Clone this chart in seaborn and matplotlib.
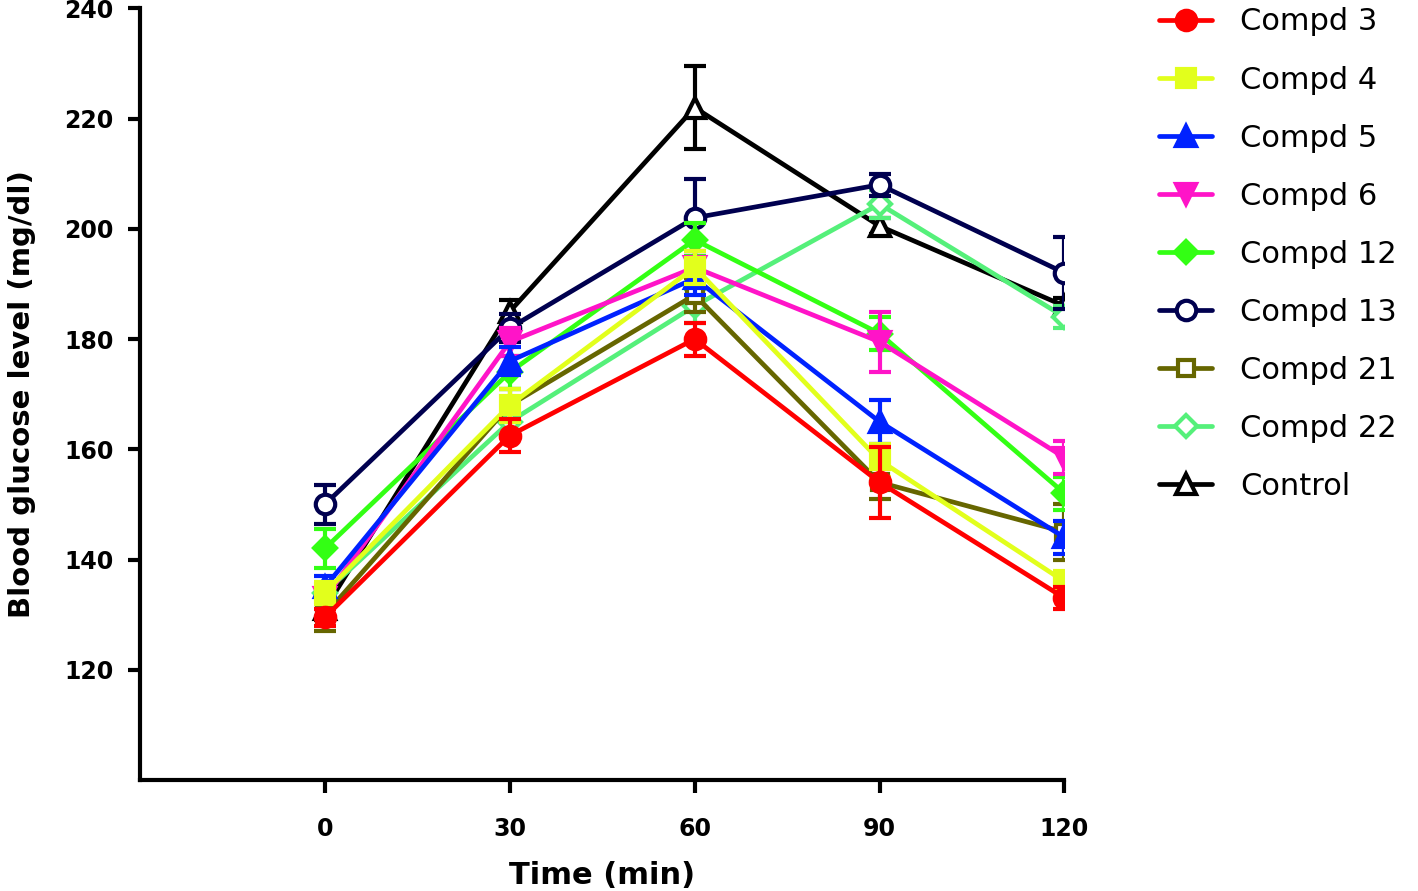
import numpy as np
import pandas as pd
import matplotlib
matplotlib.use("Agg")
import matplotlib.pyplot as plt
import seaborn as sns

# blood glucose (mg/dl) vs time, mean and error for each compound
times = [0, 30, 60, 90, 120]
names = ["Compd 3", "Compd 4", "Compd 5", "Compd 6", "Compd 12",
         "Compd 13", "Compd 21", "Compd 22", "Control"]
c3 = [129.5, 162.5, 180, 154, 133]
c4 = [134, 168, 193, 158, 136]
c5 = [135, 176, 191, 165, 144]
c6 = [133, 179.5, 193, 179.5, 158.5]
c12 = [142, 174, 198, 181, 152]
c13 = [150, 182, 202, 208, 192]
c21 = [130, 168, 188, 154, 145]
c22 = [134, 165, 186, 204.5, 184]
ctrl = [131, 185, 222, 200.5, 186]
e3 = [1.5, 3, 3, 6.5, 2]
e4 = [2, 3, 3, 3, 2]
e5 = [2, 2.5, 3, 4, 3]
e6 = [2, 2.5, 3, 5.5, 3]
e12 = [3.5, 3, 3, 3, 3]
e13 = [3.5, 2.5, 7, 2, 6.5]
e21 = [3, 3, 3, 3, 5]
e22 = [2, 3, 3, 2.5, 2]
ectrl = [2, 2, 7.5, 1.5, 1.5]

means = [c3, c4, c5, c6, c12, c13, c21, c22, ctrl]
errs = [e3, e4, e5, e6, e12, e13, e21, e22, ectrl]

colors = ["#ff0000", "#e2ff1c", "#0022ff", "#ff14c8", "#33ff14",
          "#00004f", "#666600", "#55f07a", "#000000"]
markers = ["o", "s", "^", "v", "D", "o", "s", "D", "^"]
filled = [True, True, True, True, True, False, False, False, False]
msizes = [14, 13, 14, 14, 11, 14, 12, 11, 14]

sns.set_style("white")
plt.rcParams["font.family"] = ["DejaVu Sans"]
plt.rcParams["xtick.bottom"] = True
plt.rcParams["ytick.left"] = True
for k in ["text.color", "axes.labelcolor", "xtick.color", "ytick.color"]:
    plt.rcParams[k] = "black"

fig = plt.figure(figsize=(14.18, 8.91), dpi=100)
ax = fig.add_axes([0.0987, 0.1246, 0.652, 0.866])

n = len(names)
for i in reversed(range(n)):
    z = 2 + (n - i)
    face = colors[i] if filled[i] else "white"
    ax.errorbar(times, means[i], yerr=errs[i], fmt="none", ecolor=colors[i],
                elinewidth=3, capsize=8, capthick=3, zorder=z)
    sns.lineplot(x=times, y=means[i], ax=ax, color=colors[i], linewidth=3.4,
                 marker=markers[i], markersize=msizes[i],
                 markerfacecolor=face, markeredgecolor=colors[i],
                 markeredgewidth=3, zorder=z + 0.5, label=names[i])

h, l = ax.get_legend_handles_labels()
order = [l.index(nm) for nm in names]
ax.legend([h[k] for k in order], [l[k] for k in order],
          loc="upper left", bbox_to_anchor=(1.089, 1.017), frameon=False,
          fontsize=22, handlelength=1.75, handletextpad=0.9,
          labelspacing=0.95, borderaxespad=0)

ax.set_xlim(-30, 120)
ax.set_ylim(100, 240)
ax.set_xticks(times)
ax.set_yticks([120, 140, 160, 180, 200, 220, 240])
ax.tick_params(axis="both", direction="out", length=9, width=3,
               labelsize=17, color="black", labelcolor="black")
ax.tick_params(axis="x", pad=18)
ax.tick_params(axis="y", pad=10)
for t in ax.get_xticklabels() + ax.get_yticklabels():
    t.set_fontweight("bold")
sns.despine(ax=ax)
for s in ["left", "bottom"]:
    ax.spines[s].set_linewidth(3)
    ax.spines[s].set_color("black")

ax.set_xlabel("Time (min)", fontsize=22, fontweight="bold", labelpad=14)
ax.set_ylabel("Blood glucose level (mg/dl)", fontsize=21, fontweight="bold",
              labelpad=20)
ax.grid(False)

fig.savefig("out.png", dpi=100)
